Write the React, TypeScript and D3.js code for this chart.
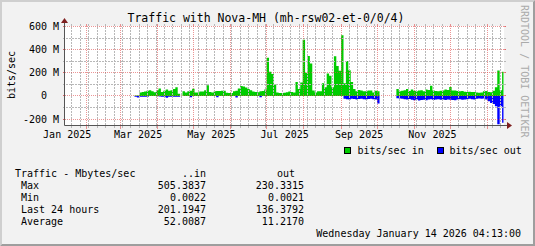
import React from 'react';
import * as d3 from 'd3';

// ---------- data (Mbit/s), 2-day buckets starting at dataStart ----------
const dataStart = new Date(2025, 2, 13);
const stepDays = 2;
const inValues: (number | null)[] = [
  3, 4, 30, 35, 38, 45, 50, 40, 33, 50,
  65, 35, 45, 55, 45, 50, 60, 75, 20, null,
  40, 30, 40, 45, 62, 30, 30, 38, 38, 50,
  92, 35, 30, 40, 42, 42, 45, 45, 28, 25,
  25, 40, 45, 65, 85, 82, 74, 60, 50, 38,
  35, 32, 40, 42, 55, 330, 210, 190, 100, 30,
  25, 25, 28, 32, 38, 35, 30, 120, 60, 116,
  485, 200, 345, 280, 47, 30, 40, 40, 110, 75,
  194, 174, 75, 344, 260, 217, 525, 110, 302, 223,
  120, 61, 41, 52, 48, 41, 41, 47, 47, 30,
  45, 40, null, null, null, null, null, null, null, 60,
  40, 45, 50, 60, 42, 55, 45, 40, 48, 50,
  40, 55, 52, 89, 48, 42, 40, 45, 48, 55,
  52, 78, 48, 47, 42, 40, 42, 36, 35, 36,
  34, 35, 30, 28, 30, 40, 42, 35, 33, 45,
  75, 220, 50, 210,
];
const outValues: (number | null)[] = [
  8, 14, 8, 8, 8, 8, 0, 0, 0, 0,
  4, 8, 8, 16, 8, 8, 8, 8, 8, null,
  0, 0, 0, 12, 0, 0, 0, 0, 0, 0,
  0, 0, 0, 0, 12, 0, 0, 0, 0, 0,
  0, 0, 14, 0, 0, 0, 0, 0, 0, 0,
  0, 0, 12, 0, 0, 0, 0, 0, 0, 0,
  0, 0, 0, 0, 0, 0, 0, 0, 0, 0,
  0, 0, 0, 0, 0, 0, 0, 0, 0, 0,
  0, 0, 0, 0, 0, 0, 0, 25, 28, 30,
  25, 27, 30, 26, 24, 28, 30, 27, 25, 28,
  30, 65, null, null, null, null, null, null, null, 20,
  22, 25, 28, 30, 27, 32, 38, 30, 40, 35,
  32, 38, 30, 28, 35, 30, 28, 32, 30, 35,
  30, 32, 35, 38, 30, 28, 32, 30, 28, 25,
  28, 30, 25, 22, 24, 22, 30, 45, 60, 70,
  90, 245, 90, 232,
];

const yMajorTicks = [-200, 0, 200, 400, 600];
const yMinorTicks = [-200, -100, 0, 100, 200, 300, 400, 500, 600];
const xLabelMonths = [
  new Date(2025, 0, 1), new Date(2025, 2, 1), new Date(2025, 4, 1),
  new Date(2025, 6, 1), new Date(2025, 8, 1), new Date(2025, 10, 1),
];
const statLabels = ['Max', 'Min', 'Last 24 hours', 'Average'];
const statIn = ['505.3837', '0.0022', '201.1947', '52.0087'];
const statOut = ['230.3315', '0.0021', '136.3792', '11.2170'];

const startTime = new Date(2025, 0, 14, 4, 13);
const endTime = new Date(2026, 0, 14, 4, 13);

const W = 535, H = 246;
const X0 = 65, X1 = 504, YB = 126, YT = 26;
const FONT = '"DejaVu Sans Mono", monospace';
const GREEN = '#00cc00', BLUE = '#0000ff';
const GRID = '#b8b8b8';
const MGRID = 'rgba(222,79,79,0.6)';
const AXIS = '#555555';
const ARROW = '#7f1f1f';

function buildPoints(vals: (number | null)[], sign: number) {
  const pts: { t: Date; v: number | null }[] = [];
  vals.forEach((v, i) => {
    const t0 = d3.timeDay.offset(dataStart, i * stepDays);
    const t1 = d3.timeDay.offset(dataStart, (i + 1) * stepDays);
    const tt1 = t1 > endTime ? endTime : t1;
    if (v == null) {
      pts.push({ t: t0, v: null });
    } else {
      pts.push({ t: t0, v: sign * v });
      pts.push({ t: tt1, v: sign * v });
    }
  });
  return pts;
}

export default function App() {
  const x = d3.scaleTime().domain([startTime, endTime]).range([X0, X1 - 0.5]);
  const y = d3.scaleLinear().domain([-260, 605]).range([YB, YT]);
  const snap = (v: number) => Math.floor(v) + 0.5;

  const area = d3
    .area<{ t: Date; v: number | null }>()
    .defined((d) => d.v != null)
    .x((d) => x(d.t))
    .y0(() => y(0))
    .y1((d) => y(d.v as number));

  const inPath = area(buildPoints(inValues, 1)) || '';
  const outPath = area(buildPoints(outValues, -1)) || '';

  const majorX = d3.timeMonth.range(d3.timeMonth.ceil(startTime), endTime);
  const majorSet = new Set(majorX.map((d) => +d));
  const minorX = d3.timeWeek
    .every(1)!
    .range(startTime, endTime)
    .map((d) => d3.timeDay.offset(d, 1))
    .filter((d) => d > startTime && d < endTime && !majorSet.has(+d));

  const yMinorOnly = yMinorTicks.filter((v) => yMajorTicks.indexOf(v) < 0);

  const minorV = minorX.map((d) => snap(x(d)));
  const minorH = yMinorOnly.map((v) => snap(y(v)));

  const minorPath = minorV.map((xx) => `M${xx},${YT - 2}V${YB + 2}`).join('');
  const minorHPath = minorH.map((yy) => `M${X0 - 2},${yy}H${X1 + 2}`).join('');

  return (
    <svg
      width={W}
      height={H}
      style={{ position: 'absolute', left: 0, top: 0, display: 'block' }}
      fontFamily={FONT}
    >
      <rect x={0} y={0} width={W} height={H} fill="#f2f2f2" />
      <polygon points={`0,0 ${W},0 ${W - 2},2 2,2 2,${H - 2} 0,${H}`} fill="#cfcfcf" />
      <polygon points={`${W},0 ${W},${H} 0,${H} 2,${H - 2} ${W - 2},${H - 2} ${W - 2},2`} fill="#9e9e9e" />
      <rect x={X0} y={YT} width={X1 - X0} height={YB - YT} fill="#ffffff" />

      <path d={inPath} fill={GREEN} />
      <path d={outPath} fill={BLUE} />

      {/* minor grid */}
      <path d={minorPath} stroke={GRID} strokeWidth={1} strokeDasharray="2 1" fill="none" />
      <path d={minorHPath} stroke={GRID} strokeWidth={1} strokeDasharray="2 1" fill="none" />

      {/* major vertical grid */}
      {majorX.map((d, i) => {
        const xx = snap(x(d));
        return (
          <g key={'Mx' + i}>
            <line x1={xx} x2={xx} y1={YT} y2={YB} stroke={MGRID} strokeDasharray="1,1" />
            <line x1={xx} x2={xx} y1={YB} y2={YB + 3} stroke={MGRID} />
            <line x1={xx} x2={xx} y1={YT - 2} y2={YT} stroke={MGRID} />
          </g>
        );
      })}
      {/* major horizontal grid */}
      {yMajorTicks.map((v, i) => {
        const yy = snap(y(v));
        return (
          <g key={'My' + i}>
            <line x1={X0 - 2} x2={X1 + 2} y1={yy} y2={yy} stroke={MGRID} strokeDasharray="1,1" />
            <line x1={X0 - 2} x2={X0} y1={yy} y2={yy} stroke={MGRID} />
            <line x1={X1} x2={X1 + 2} y1={yy} y2={yy} stroke={MGRID} />
          </g>
        );
      })}

      {/* axes */}
      <line x1={X0 - 0.5} x2={X1 + 4} y1={YB - 0.5} y2={YB - 0.5} stroke={AXIS} />
      <line x1={X0 - 0.5} x2={X0 - 0.5} y1={YB - 0.5} y2={YT - 4} stroke={AXIS} />
      <polygon
        points={`${X1 + 3},${YB - 4} ${X1 + 3},${YB + 3} ${X1 + 8},${YB - 0.5}`}
        fill={ARROW}
      />
      <polygon
        points={`${X0 - 4},${YT - 3} ${X0 + 3},${YT - 3} ${X0 - 0.5},${YT - 8}`}
        fill={ARROW}
      />

      {/* y labels */}
      {yMajorTicks.map((v, i) => (
        <text
          key={'yl' + i}
          x={59}
          y={y(v) + 3.5}
          fontSize={10}
          textAnchor="end"
          style={{ whiteSpace: 'pre' }}
        >
          {v === 0 ? '0  ' : `${v} M`}
        </text>
      ))}
      {/* x labels */}
      {xLabelMonths.map((m, i) => (
        <text
          key={'xl' + i}
          x={x(d3.timeDay.offset(m, 15))}
          y={138}
          fontSize={10}
          textAnchor="middle"
        >
          {d3.timeFormat('%b %Y')(m)}
        </text>
      ))}

      {/* title */}
      <text x={266} y={21.5} fontSize={11.5} textAnchor="middle">
        Traffic with Nova-MH (mh-rsw02-et-0/0/4)
      </text>
      {/* vertical label */}
      <text transform="translate(15,75) rotate(-90)" fontSize={10} textAnchor="middle">
        bits/sec
      </text>
      {/* watermark */}
      <text transform="translate(521,5) rotate(90)" fontSize={10} fill="#aaaaaa">
        RRDTOOL / TOBI OETIKER
      </text>

      {/* legend */}
      <rect x={344.5} y={147.5} width={6} height={6} fill={GREEN} stroke="#000" />
      <text x={357.5} y={153.5} fontSize={10}>bits/sec in</text>
      <rect x={437.5} y={147.5} width={6} height={6} fill={BLUE} stroke="#000" />
      <text x={449.5} y={153.5} fontSize={10}>bits/sec out</text>

      {/* stats table */}
      <text x={15} y={177} fontSize={10}>Traffic - Mbytes/sec</text>
      <text x={206} y={177} fontSize={10} textAnchor="end">..in</text>
      <text x={295} y={177} fontSize={10} textAnchor="end">out</text>
      {statLabels.map((l, i) => (
        <g key={'st' + i}>
          <text x={21} y={189 + i * 12} fontSize={10}>{l}</text>
          <text x={206} y={189 + i * 12} fontSize={10} textAnchor="end">{statIn[i]}</text>
          <text x={304} y={189 + i * 12} fontSize={10} textAnchor="end">{statOut[i]}</text>
        </g>
      ))}
      <text x={521} y={237} fontSize={10} textAnchor="end">
        Wednesday January 14 2026 04:13:00
      </text>
    </svg>
  );
}
